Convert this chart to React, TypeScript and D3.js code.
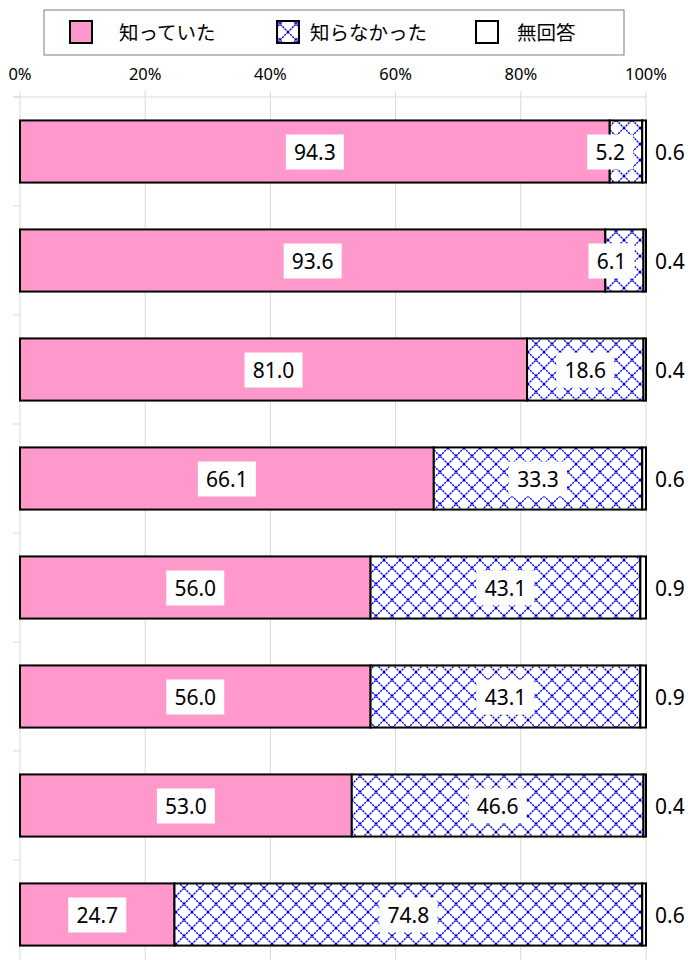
import { useEffect, useRef } from "react";
import * as d3 from "d3";

// 8 rows, category names are cut off in the picture
const categories = ["1", "2", "3", "4", "5", "6", "7", "8"];
const seriesNames = ["知っていた", "知らなかった", "無回答"];
const knew = [94.3, 93.6, 81.0, 66.1, 56.0, 56.0, 53.0, 24.7];
const didNotKnow = [5.2, 6.1, 18.6, 33.3, 43.1, 43.1, 46.6, 74.8];
const noAnswer = [0.6, 0.4, 0.4, 0.6, 0.9, 0.9, 0.4, 0.6];
const xTicks = [0, 20, 40, 60, 80, 100];

const W = 688;
const H = 960;
const PINK = "#ff99cc";
const BLUE = "#0000cc";
const GRID = "#d9d9d9";
const NUM_FONT = "'Noto Sans', 'Noto Sans CJK JP', sans-serif";
const JP_FONT = "'Noto Sans CJK JP', sans-serif";

export default function App() {
  const svgRef = useRef<SVGSVGElement | null>(null);

  useEffect(() => {
    if (!svgRef.current) return;
    const svg = d3.select(svgRef.current);
    svg.selectAll("*").remove();

    const defs = svg.append("defs");
    const pat = defs.append("pattern")
      .attr("id", "cross")
      .attr("patternUnits", "userSpaceOnUse")
      .attr("width", 16).attr("height", 16);
    pat.append("rect").attr("width", 16).attr("height", 16).attr("fill", "#fff");
    pat.append("path")
      .attr("d", "M0,0L16,16M16,0L0,16")
      .attr("stroke", BLUE).attr("stroke-width", 1.4)
      .attr("stroke-dasharray", "2,1").attr("fill", "none");

    const x = d3.scaleLinear().domain([0, 100]).range([20, 646]);
    const y = d3.scaleBand<string>()
      .domain(categories)
      .range([97, 97 + 109 * categories.length])
      .paddingInner(0.43)
      .paddingOuter(0.215);
    const step = y.step();
    const bandTop = 97;

    // Grid lines
    svg.append("g").selectAll("line")
      .data(xTicks)
      .join("line")
      .attr("x1", (d) => x(d)).attr("x2", (d) => x(d))
      .attr("y1", 91).attr("y2", H)
      .attr("stroke", GRID).attr("stroke-width", 1);

    svg.append("line")
      .attr("x1", 13).attr("x2", x(100))
      .attr("y1", bandTop).attr("y2", bandTop)
      .attr("stroke", GRID);

    // Category axis ticks
    svg.append("g").selectAll("line")
      .data(d3.range(categories.length + 1))
      .join("line")
      .attr("x1", 13).attr("x2", 20)
      .attr("y1", (i) => bandTop + i * step).attr("y2", (i) => bandTop + i * step)
      .attr("stroke", GRID);

    // X tick labels
    svg.append("g").selectAll("text")
      .data(xTicks)
      .join("text")
      .attr("x", (d) => x(d))
      .attr("y", 80)
      .attr("text-anchor", "middle")
      .style("font-family", NUM_FONT).style("font-size", "16.5px").attr("fill", "#000")
      .text((d) => `${d}%`);

    // Bars
    categories.forEach((cat, i) => {
      const vals = [knew[i], didNotKnow[i], noAnswer[i]];
      const total = d3.sum(vals);
      const y0 = y(cat) as number;
      const bh = y.bandwidth();
      let acc = 0;
      const fills = [PINK, "url(#cross)", "#fff"];
      vals.forEach((v, j) => {
        const a = x((acc / total) * 100);
        const b = x(((acc + v) / total) * 100);
        acc += v;
        svg.append("rect")
          .attr("x", a).attr("y", y0)
          .attr("width", b - a).attr("height", bh)
          .attr("fill", fills[j])
          .attr("stroke", "#000").attr("stroke-width", 2);

        const label = v.toFixed(1);
        const cy = y0 + bh / 2;
        if (j < 2) {
          const bw = label.length * 12 + 10;
          let cx = (a + b) / 2;
          if (cx + bw / 2 > b - 9) cx = b - 9 - bw / 2;
          svg.append("rect")
            .attr("x", cx - bw / 2).attr("y", cy - 17)
            .attr("width", bw).attr("height", 35)
            .attr("fill", "#fff");
          svg.append("text")
            .attr("x", cx).attr("y", cy + 8)
            .attr("text-anchor", "middle")
            .style("font-family", NUM_FONT).style("font-size", "21px").attr("fill", "#000")
            .text(label);
        } else {
          svg.append("text")
            .attr("x", 655).attr("y", cy + 8)
            .style("font-family", NUM_FONT).style("font-size", "21px").attr("fill", "#000")
            .text(label);
        }
      });
    });

    // Legend
    const lg = svg.append("g");
    lg.append("rect")
      .attr("x", 44).attr("y", 10).attr("width", 580).attr("height", 45)
      .attr("fill", "#fff").attr("stroke", "#7f7f7f").attr("stroke-width", 1);
    const legendX = [70, 277, 476];
    const textX = [119, 310, 517];
    const lfills = [PINK, "url(#cross)", "#fff"];
    seriesNames.forEach((name, i) => {
      lg.append("rect")
        .attr("x", legendX[i]).attr("y", 21).attr("width", 22).attr("height", 22)
        .attr("fill", lfills[i]).attr("stroke", "#000").attr("stroke-width", 2);
      lg.append("text")
        .attr("x", textX[i]).attr("y", 40)
        .style("font-family", JP_FONT).style("font-size", "19.5px").attr("fill", "#000")
        .text(name);
    });
  }, []);

  return (
    <svg
      ref={svgRef}
      width={W}
      height={H}
      style={{ position: "absolute", left: 0, top: 0, background: "#fff" }}
    />
  );
}
